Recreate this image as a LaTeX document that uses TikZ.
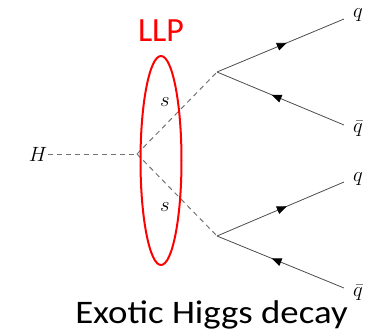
\documentclass[tikz,border=0pt]{standalone}
\usepackage{fontspec}
\usepackage{tikz}
\usetikzlibrary{arrows.meta,decorations.markings}
\newfontfamily\calib{Carlito}
\newfontfamily\calibwide[FakeStretch=1.12]{Carlito}

\begin{document}
\begin{tikzpicture}[x=1bp, y=-1bp, every node/.style={font=\fontsize{20}{24}\selectfont, inner sep=1bp},
	scalar/.style={black!55, line width=1bp, dash pattern=on 5bp off 4bp},
	fermion/.style={black!70, line width=0.8bp, postaction={decorate}, decoration={markings, mark=at position #1 with {\arrow[black]{Triangle[length=10bp, width=8bp]}}}}]
	\useasboundingbox (0,0) rectangle (372,332);
	% vertices and free ends
	\coordinate (v) at (137,154);
	\coordinate (s1) at (217,72);
	\coordinate (s2) at (217,236);
	\coordinate (q1) at (344,19);
	\coordinate (qb1) at (344,125);
	\coordinate (q2) at (344,182);
	\coordinate (qb2) at (344,288);
	\node (H) at (38,154) {$H$};
	\draw[scalar] (H) -- (v);
	\draw[scalar] (v) -- (s1);
	\draw[scalar] (v) -- (s2);
	\draw[fermion=0.55] (s1) -- (q1);
	\draw[fermion=0.57] (qb1) -- (s1);
	\draw[fermion=0.55] (s2) -- (q2);
	\draw[fermion=0.57] (qb2) -- (s2);
	\node (lq1) at (358,15) {$q$};
	\node (lqb1) at (358,129) {$\bar q$};
	\node (lq2) at (358,179) {$q$};
	\node (lqb2) at (358,293) {$\bar q$};
	\node (ls1) at (165,102) {$s$};
	\node (ls2) at (165,207) {$s$};
	% long lived particle
	\draw[red, line width=2bp] (161,160.5) ellipse (20.5 and 104.5);
	\node[font=\calib\fontsize{34}{40}\selectfont, text=red, anchor=base] (llp) at (161,41.5) {LLP};
	\node[font=\calibwide\fontsize{33}{40}\selectfont, anchor=base] (title) at (211.5,323) {Exotic Higgs decay};
\end{tikzpicture}
\end{document}
